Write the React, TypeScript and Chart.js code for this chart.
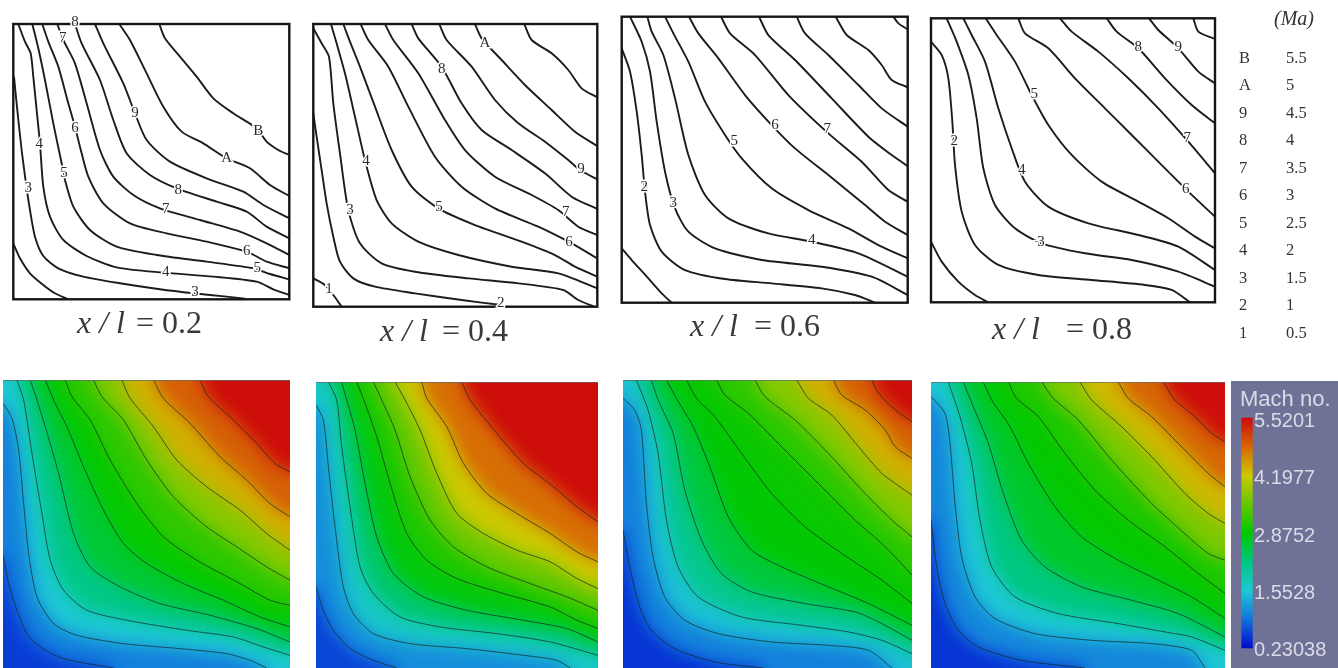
import React, { useEffect, useRef } from "react";
import { Chart, registerables } from "chart.js";

Chart.register(...registerables);

// ---------- contour lines: flat [x, y, x, y, ...] lists ----------
const topContours1 = [
  [40,700,60,745,90,790,130,825,165,850,205,868],
  [42,200,52,300,65,420,78,520,90,600,105,680,130,738,175,775,250,800,360,820,480,838,580,850,680,860,735,866],
  [55,42,75,95,92,130,100,200,112,320,120,400,130,530,150,620,190,690,260,738,350,772,490,788,640,800,770,815,820,838,868,855],
  [97,42,115,115,135,210,160,340,185,460,195,510,220,590,270,660,350,710,470,735,620,755,760,775,810,792,868,808],
  [127,42,145,95,175,170,205,280,225,350,240,410,265,500,310,580,390,640,500,670,620,695,740,725,800,755,868,775],
  [172,42,190,90,225,160,260,280,300,420,340,500,400,555,480,595,600,630,720,665,800,700,868,735],
  [225,42,245,100,300,210,340,330,380,430,450,495,530,535,650,575,740,605,800,650,868,685],
  [285,42,310,100,370,220,405,310,440,390,510,455,620,505,730,545,790,585,868,625],
  [358,42,390,90,440,190,490,290,545,365,610,400,680,445,750,475,810,525,868,558],
  [478,42,495,85,540,140,590,200,640,265,700,310,770,355,800,395,835,420,868,435],
];
const topContours2 = [
  [25,805,60,825,85,855,110,890],
  [25,310,35,380,50,480,65,580,85,680,105,755,145,805,210,830,330,850,470,870,590,885],
  [25,55,50,100,72,140,85,280,105,430,130,600,165,700,230,760,330,785,490,805,640,820,775,840,820,870,868,890],
  [78,42,95,100,120,190,150,320,180,450,215,570,260,640,340,695,460,735,620,770,760,790,877,835],
  [115,42,135,95,165,170,210,290,260,420,320,530,400,595,510,645,650,695,750,735,810,770,877,800],
  [167,42,190,90,250,170,310,290,390,440,470,530,570,595,700,650,800,700,877,745],
  [240,42,265,90,340,190,420,330,480,420,570,500,680,555,760,600,820,650,877,675],
  [320,42,340,85,410,170,470,280,530,360,620,420,720,490,800,560,877,597],
  [403,42,425,90,500,170,570,270,640,340,720,395,790,450,825,480,877,508],
  [510,42,530,85,590,150,660,225,740,300,810,365,877,408],
  [658,42,680,90,740,130,790,180,830,235,877,262],
];
const topContours3 = [
  [20,730,50,765,100,820,140,865,170,893],
  [20,130,45,200,65,320,80,450,90,560,105,660,140,740,210,795,330,822,470,835,620,850,720,870,780,893],
  [45,35,80,110,105,200,125,350,150,500,180,610,220,680,300,730,440,765,620,785,770,815,878,870],
  [97,35,110,80,145,150,180,280,220,450,270,570,340,640,460,685,590,710,730,745,878,815],
  [150,35,175,85,220,170,270,290,330,390,380,460,470,550,580,615,700,670,790,720,878,760],
  [222,35,250,85,310,160,390,270,470,360,540,430,640,510,750,600,810,650,878,690],
  [318,35,345,85,420,150,520,270,640,385,740,470,820,555,878,590],
  [432,35,460,90,540,165,650,280,760,395,830,450,878,483],
  [545,35,570,85,640,150,730,240,800,310,878,365],
  [662,35,695,90,760,135,800,180,830,225,878,247],
  [835,35,850,55,878,73],
];
const topContours4 = [
  [18,710,50,770,100,830,150,870,190,892],
  [18,110,50,150,70,220,82,350,90,480,110,620,150,720,220,780,340,810,500,825,660,840,740,855,795,892],
  [65,40,95,110,130,210,155,340,175,490,210,600,270,670,350,715,480,745,620,765,760,800,870,845],
  [115,40,140,90,180,170,220,310,260,430,300,530,370,605,490,655,640,690,760,725,870,795],
  [182,40,215,90,270,170,320,270,370,360,440,450,530,530,640,590,730,640,810,695,870,730],
  [280,40,300,85,370,130,450,220,540,310,620,390,720,490,790,560,870,635],
  [405,40,440,80,520,140,610,220,700,310,790,410,870,505],
  [545,40,575,80,640,130,720,220,800,300,870,355],
  [672,40,700,75,760,130,820,200,870,235],
  [805,40,820,80,870,102],
];
const lowerContours1 = [
  [8,555,25,640,50,720,80,790,120,830,190,865,340,893],
  [8,100,35,145,55,240,70,400,85,550,110,680,160,760,230,795,370,820,540,835,680,850,750,870,800,893],
  [50,30,70,90,95,250,125,430,150,570,190,660,260,720,380,750,560,780,700,800,790,830,870,855],
  [90,30,110,90,135,170,175,310,220,490,270,590,360,650,480,700,630,735,770,775,870,815],
  [135,30,160,90,200,170,250,290,310,420,370,520,440,580,550,640,670,690,780,740,870,770],
  [195,30,215,80,270,150,330,270,410,400,490,500,590,570,720,640,810,690,870,705],
  [280,30,305,80,370,150,440,270,520,380,620,470,710,530,800,590,870,630],
  [365,30,390,85,460,170,530,270,620,350,720,420,800,490,870,540],
  [460,30,490,85,570,160,660,260,740,330,810,400,870,440],
  [600,30,625,80,700,150,770,220,825,280,870,305],
];
const lowerContours2 = [
  [18,650,40,720,70,780,120,835,190,870,260,893],
  [18,105,40,150,55,290,75,470,100,650,130,730,190,790,300,820,470,835,640,855,740,870,780,893],
  [55,36,80,90,95,230,120,410,150,590,190,670,270,740,390,770,560,790,720,815,863,855],
  [95,36,110,90,135,180,165,340,200,500,250,610,340,680,470,720,640,750,770,775,863,815],
  [140,36,165,100,200,200,240,340,290,490,350,570,440,625,580,670,720,710,800,750,863,775],
  [190,36,215,90,255,180,300,320,360,450,430,530,530,590,660,640,770,680,863,720],
  [255,36,285,90,330,180,380,310,440,430,520,490,620,540,720,575,800,625,863,655],
  [335,36,350,85,410,170,460,280,530,370,620,430,720,490,800,545,863,575],
  [455,36,480,90,560,190,640,280,730,350,800,410,863,455],
];
const lowerContours3 = [
  [25,480,45,590,75,710,110,780,180,835,300,875,445,893],
  [25,85,60,120,80,180,95,400,115,560,150,680,210,750,310,790,470,815,640,825,760,840,830,893],
  [65,30,100,120,130,250,155,450,190,590,250,680,380,740,560,765,700,785,800,810,890,850],
  [110,30,130,90,175,190,210,360,260,510,320,610,410,665,570,700,720,725,790,755,890,810],
  [155,30,185,85,235,170,285,290,340,440,410,540,500,590,640,650,760,700,890,765],
  [215,30,245,85,300,140,380,250,470,370,570,470,680,550,800,630,890,700],
  [305,30,330,75,400,130,490,220,610,340,720,450,810,530,890,615],
  [420,30,450,80,540,150,640,250,740,360,830,450,890,500],
  [545,30,580,85,650,135,730,230,800,310,890,375],
  [655,30,680,75,750,120,810,180,840,230,890,265],
  [770,30,790,70,840,120,890,155],
];
const lowerContours4 = [
  [18,450,35,590,60,700,100,780,160,830,290,870,480,893],
  [18,80,60,130,75,220,90,400,110,560,150,680,210,745,330,790,500,810,680,820,800,840,840,893],
  [70,36,105,140,140,280,165,450,200,590,270,680,400,730,580,760,720,785,800,800,900,840],
  [115,36,145,110,190,220,235,370,290,510,360,590,470,650,620,690,760,730,900,800],
  [175,36,200,90,255,170,310,280,390,410,470,500,580,570,700,630,800,680,900,745],
  [250,36,275,85,340,140,420,250,510,360,610,450,720,530,820,610,900,670],
  [350,36,385,85,460,150,560,270,680,400,790,500,850,550,900,570],
  [465,36,500,90,590,170,680,260,780,370,850,430,900,460],
  [580,36,610,85,680,140,760,220,850,310,900,350],
  [715,36,750,90,810,140,860,190,900,215],
];

// ---------- Mach number for each band between contours ----------
const bandMach1 = [0.55, 1.0, 1.55, 2.15, 2.6, 2.9, 3.2, 3.75, 4.35, 4.9, 5.5];
const bandMach2 = [0.6, 1.1, 1.65, 2.3, 2.8, 3.1, 3.6, 4.2, 4.8, 5.5];
const bandMach3 = [0.5, 1.0, 1.5, 2.1, 2.55, 2.85, 2.95, 3.2, 3.75, 4.35, 4.9, 5.5];
const bandMach4 = [0.5, 1.05, 1.55, 2.2, 2.65, 2.9, 3.1, 3.7, 4.3, 4.85, 5.5];

// ---------- contour code labels: [code, x, y] ----------
const topLabels1: [string, number, number][] = [["8",225,35],["7",188,85],["9",405,310],["6",225,355],["4",118,402],["B",775,362],["A",680,445],["5",192,490],["3",85,535],["8",535,540],["7",497,597],["6",740,722],["5",772,775],["4",497,785],["3",585,845]];
const topLabels2: [string, number, number][] = [["A",540,100],["8",410,177],["9",828,477],["4",183,452],["7",782,605],["3",135,600],["5",402,590],["6",792,695],["1",72,838],["2",587,878]];
const topLabels3: [string, number, number][] = [["2",88,545],["3",175,595],["5",358,408],["6",480,360],["7",637,372],["4",590,705]];
const topLabels4: [string, number, number][] = [["8",640,127],["9",760,125],["5",328,268],["2",88,408],["7",787,400],["4",290,495],["6",782,552],["3",348,712]];

// ---------- text and key ----------
const captions = ["0.2", "0.4", "0.6", "0.8"];
const legendCodes = ["B", "A", "9", "8", "7", "6", "5", "4", "3", "2", "1"];
const legendMach = ["5.5", "5", "4.5", "4", "3.5", "3", "2.5", "2", "1.5", "1", "0.5"];
const colorbarTicks = [5.5201, 4.1977, 2.8752, 1.5528, 0.23038];
const rampMach = [0.23038, 0.6, 1.0, 1.5528, 2.2, 2.8752, 3.6, 4.1977, 4.8, 5.5201];
const rampColor = [
  [0, 10, 205], [10, 70, 215], [20, 130, 220], [30, 200, 212], [0, 200, 130],
  [0, 200, 0], [110, 200, 0], [205, 200, 0], [215, 110, 5], [205, 10, 10],
];

const machColor = (m: number) => {
  let i = 0;
  while (i < rampMach.length - 2 && m > rampMach[i + 1]) i++;
  const t = Math.min(1, Math.max(0, (m - rampMach[i]) / (rampMach[i + 1] - rampMach[i])));
  const c = rampColor[i].map((v, k) => Math.round(v + (rampColor[i + 1][k] - v) * t));
  return `rgb(${c[0]},${c[1]},${c[2]})`;
};

const toPoints = (flat: number[]) => {
  const pts: { x: number; y: number }[] = [];
  for (let i = 0; i < flat.length; i += 2) pts.push({ x: flat[i], y: flat[i + 1] });
  return pts;
};

type Range = { x0: number; x1: number; y0: number; y1: number };

// closes a contour round the high-Mach (upper right) side, beyond the visible frame
const regionAbove = (flat: number[], r: Range) => {
  const pad = 90;
  const farL = r.x0 - pad, farR = r.x1 + pad, farT = r.y0 - pad, farB = r.y1 + pad;
  const pts = toPoints(flat);
  const s = pts[0], e = pts[pts.length - 1];
  const out = [...pts];
  if (e.x >= r.x1 - 1) {
    out.push({ x: farR, y: e.y });
  } else {
    out.push({ x: e.x, y: farB }, { x: farR, y: farB });
  }
  out.push({ x: farR, y: farT });
  if (s.y <= r.y0 + 1) {
    out.push({ x: s.x, y: farT });
  } else {
    out.push({ x: farL, y: farT }, { x: farL, y: s.y });
  }
  return out;
};

const baseOptions = (r: Range, padding: any) => ({
  responsive: false,
  animation: false as const,
  events: [] as any[],
  layout: { padding },
  plugins: { legend: { display: false }, tooltip: { enabled: false }, title: { display: false } },
  scales: {
    x: { type: "linear" as const, display: false, min: r.x0, max: r.x1 },
    y: { type: "linear" as const, display: false, min: r.y0, max: r.y1, reverse: true },
  },
});

type TopSpec = {
  left: number; width: number; frame: [number, number, number, number];
  range: Range; contours: number[][]; labels: [string, number, number][];
  caption: string; capL: number; capR: number; capY: number;
};
type LowSpec = {
  box: [number, number, number, number]; range: Range; contours: number[][]; bands: number[];
};

const topSpecs: TopSpec[] = [
  { left: 0, width: 302, frame: [13.3, 24, 289.3, 299.3], range: { x0: 40, x1: 868, y0: 42, y1: 868 }, contours: topContours1, labels: topLabels1, caption: captions[0], capL: 77, capR: 202, capY: 325 },
  { left: 305, width: 302, frame: [313.3, 24, 597.3, 306.7], range: { x0: 25, x1: 877, y0: 42, y1: 890 }, contours: topContours2, labels: topLabels2, caption: captions[1], capL: 380, capR: 508, capY: 333 },
  { left: 612, width: 306, frame: [621.7, 16.7, 907.7, 302.7], range: { x0: 20, x1: 878, y0: 35, y1: 893 }, contours: topContours3, labels: topLabels3, caption: captions[2], capL: 690, capR: 820, capY: 328 },
  { left: 922, width: 303, frame: [931, 18.3, 1215, 302.3], range: { x0: 18, x1: 870, y0: 40, y1: 892 }, contours: topContours4, labels: topLabels4, caption: captions[3], capL: 992, capR: 1132, capY: 331 },
];
const lowSpecs: LowSpec[] = [
  { box: [3, 380, 287, 288], range: { x0: 8, x1: 870, y0: 30, y1: 893 }, contours: lowerContours1, bands: bandMach1 },
  { box: [316, 382, 282, 286], range: { x0: 18, x1: 863, y0: 36, y1: 893 }, contours: lowerContours2, bands: bandMach2 },
  { box: [623, 380, 289, 288], range: { x0: 25, x1: 890, y0: 30, y1: 893 }, contours: lowerContours3, bands: bandMach3 },
  { box: [931, 382, 294, 286], range: { x0: 18, x1: 900, y0: 36, y1: 893 }, contours: lowerContours4, bands: bandMach4 },
];

const TOP_H = 350;

function makeTop(canvas: HTMLCanvasElement, s: TopSpec) {
  const [fx0, fy0, fx1, fy1] = s.frame;
  const framePlugin = {
    id: "frameAndText",
    afterDraw(chart: any) {
      const { ctx, chartArea: a, scales } = chart;
      ctx.save();
      ctx.strokeStyle = "#151515";
      ctx.lineWidth = 2.4;
      ctx.strokeRect(a.left, a.top, a.right - a.left, a.bottom - a.top);
      ctx.font = "15px 'Liberation Serif'";
      ctx.textAlign = "center";
      ctx.textBaseline = "middle";
      for (const [t, x, y] of s.labels) {
        const px = scales.x.getPixelForValue(x), py = scales.y.getPixelForValue(y);
        ctx.strokeStyle = "#ffffff";
        ctx.lineWidth = 3;
        ctx.strokeText(t, px, py);
        ctx.fillStyle = "#2a2a2a";
        ctx.fillText(t, px, py);
      }
      ctx.fillStyle = "#3a3a3a";
      ctx.font = "italic 32px 'Liberation Serif'";
      ctx.textAlign = "left";
      ctx.fillText("x / l", s.capL - s.left, s.capY);
      ctx.font = "32px 'Liberation Serif'";
      ctx.textAlign = "right";
      ctx.fillText("= " + s.caption, s.capR - s.left, s.capY);
      ctx.restore();
    },
  };
  return new Chart(canvas, {
    type: "scatter",
    data: {
      datasets: s.contours.map((c) => ({
        data: toPoints(c), showLine: true, borderColor: "#1c1c1c", borderWidth: 1.9,
        pointRadius: 0, tension: 0.25, fill: false,
      })),
    },
    options: baseOptions(s.range, {
      left: fx0 - s.left, right: s.left + s.width - fx1, top: fy0, bottom: TOP_H - fy1,
    }) as any,
    plugins: [framePlugin],
  });
}

function makeLower(canvas: HTMLCanvasElement, s: LowSpec) {
  const r = s.range;
  const base = [r.x0 - 90, r.y0 - 90, r.x1 + 90, r.y0 - 90, r.x1 + 90, r.y1 + 90, r.x0 - 90, r.y1 + 90];
  const fills: any[] = [
    { data: toPoints(base), order: 200, backgroundColor: machColor(s.bands[0]) },
    ...s.contours.map((c, i) => ({
      data: regionAbove(c, r), order: 100 - i, backgroundColor: machColor(s.bands[i + 1]),
    })),
  ].map((d) => ({ ...d, showLine: true, borderWidth: 0, borderColor: "transparent", pointRadius: 0, tension: 0, fill: "shape" }));
  const lines: any[] = s.contours.map((c) => ({
    data: toPoints(c), order: 0, showLine: true, borderColor: "rgba(18,38,38,0.78)", borderWidth: 0.9,
    pointRadius: 0, tension: 0.25, fill: false,
  }));
  const softPlugin = {
    id: "softBands",
    beforeDraw(chart: any) {
      chart.ctx.filter = "blur(8px)";
    },
    beforeDatasetDraw(chart: any, args: any) {
      if (chart.data.datasets[args.index].order === 0) chart.ctx.filter = "none";
    },
    afterDraw(chart: any) {
      const { ctx, chartArea: a } = chart;
      ctx.filter = "none";
      ctx.save();
      ctx.strokeStyle = "rgba(95,105,105,0.7)";
      ctx.lineWidth = 1;
      ctx.beginPath();
      ctx.moveTo(a.left, a.top + 0.5);
      ctx.lineTo(a.right, a.top + 0.5);
      ctx.stroke();
      ctx.restore();
    },
  };
  return new Chart(canvas, {
    type: "scatter",
    data: { datasets: [...fills, ...lines] },
    options: baseOptions(r, 0) as any,
    plugins: [softPlugin],
  });
}

function makeKey(canvas: HTMLCanvasElement) {
  const textPlugin = {
    id: "keyText",
    afterDraw(chart: any) {
      const { ctx, scales } = chart;
      ctx.save();
      ctx.fillStyle = "#333333";
      ctx.textBaseline = "middle";
      ctx.textAlign = "left";
      ctx.font = "italic 20px 'Liberation Serif'";
      ctx.fillText("(Ma)", 49, 20);
      ctx.font = "16.5px 'Liberation Serif'";
      legendCodes.forEach((c, i) => {
        const y = scales.y.getPixelForValue(c);
        ctx.fillText(c, 14, y);
        ctx.fillText(legendMach[i], 61, y);
      });
      ctx.restore();
    },
  };
  return new Chart(canvas, {
    type: "bar",
    data: { labels: legendCodes, datasets: [{ data: [] as number[] }] },
    options: {
      responsive: false,
      animation: false,
      events: [],
      layout: { padding: { top: 44.5, bottom: 3 } },
      plugins: { legend: { display: false }, tooltip: { enabled: false } },
      scales: {
        x: { display: false },
        y: { type: "category", labels: legendCodes, display: false, offset: true },
      },
    } as any,
    plugins: [textPlugin],
  });
}

function makeColorbar(canvas: HTMLCanvasElement) {
  const barTop = 6.371, barBottom = -0.23;
  const labelShift = 3 / 43.48;
  const slots = ["", "Mach no.", "", "", "", "", "", "", "", ""];
  const barData: any[] = slots.map((_, i) => (i === 1 ? [colorbarTicks[4], colorbarTicks[0]] : null));
  const gradientFill = (c: any) => {
    const { ctx, chartArea, scales } = c.chart;
    if (!chartArea) return machColor(2.87);
    const yTop = scales.y.getPixelForValue(colorbarTicks[0]);
    const yBot = scales.y.getPixelForValue(colorbarTicks[4]);
    const g = ctx.createLinearGradient(0, yBot, 0, yTop);
    rampMach.forEach((m) => {
      g.addColorStop((m - colorbarTicks[4]) / (colorbarTicks[0] - colorbarTicks[4]), machColor(m));
    });
    return g;
  };
  const bgPlugin = {
    id: "panelBg",
    beforeDraw(chart: any) {
      const { ctx, width, height } = chart;
      ctx.save();
      ctx.fillStyle = "#6f7296";
      ctx.fillRect(0, 0, width, height);
      ctx.restore();
    },
    afterDraw(chart: any) {
      const { ctx } = chart;
      ctx.save();
      ctx.fillStyle = "#d9dbe6";
      ctx.font = "22px 'Liberation Sans'";
      ctx.textBaseline = "middle";
      ctx.textAlign = "left";
      ctx.fillText(slots[1], 9, 19);
      ctx.restore();
    },
  };
  return new Chart(canvas, {
    type: "bar",
    data: {
      labels: slots,
      datasets: [{ data: barData, backgroundColor: gradientFill, barPercentage: 1, categoryPercentage: 1, borderWidth: 0 }],
    },
    options: {
      responsive: false,
      animation: false,
      events: [],
      layout: { autoPadding: false, padding: 0 },
      plugins: { legend: { display: false }, tooltip: { enabled: false } },
      scales: {
        x: { display: false },
        y: { display: false, min: barBottom, max: barTop },
        y2: {
          axis: "y",
          position: "left",
          min: barBottom + labelShift,
          max: barTop + labelShift,
          afterBuildTicks: (s: any) => {
            s.ticks = colorbarTicks.map((v) => ({ value: v }));
          },
          afterFit: (s: any) => {
            s.width = 0;
            s.paddingTop = 0;
            s.paddingBottom = 0;
            s.paddingLeft = 0;
            s.paddingRight = 0;
          },
          grid: { display: false, drawTicks: false },
          border: { display: false },
          ticks: {
            mirror: true,
            padding: 23,
            autoSkip: false,
            color: "#d9dbe6",
            font: { family: "'Liberation Sans'", size: 20 },
            callback: (v: any) => String(v),
          },
        },
      },
    } as any,
    plugins: [bgPlugin],
  });
}

const abs = (l: number, t: number): React.CSSProperties => ({ position: "absolute", left: l, top: t, display: "block" });

export default function App() {
  const topRefs = useRef<(HTMLCanvasElement | null)[]>([]);
  const lowRefs = useRef<(HTMLCanvasElement | null)[]>([]);
  const keyRef = useRef<HTMLCanvasElement | null>(null);
  const barRef = useRef<HTMLCanvasElement | null>(null);

  useEffect(() => {
    const charts: Chart[] = [];
    topSpecs.forEach((s, i) => charts.push(makeTop(topRefs.current[i]!, s)));
    lowSpecs.forEach((s, i) => charts.push(makeLower(lowRefs.current[i]!, s)));
    charts.push(makeKey(keyRef.current!));
    charts.push(makeColorbar(barRef.current!));
    return () => charts.forEach((c) => c.destroy());
  }, []);

  return (
    <div style={{ position: "absolute", left: 0, top: 0, width: 1338, height: 668, overflow: "hidden", background: "#fff" }}>
      {topSpecs.map((s, i) => (
        <canvas key={"t" + i} ref={(el) => { topRefs.current[i] = el; }} width={s.width} height={TOP_H} style={abs(s.left, 0)} />
      ))}
      {lowSpecs.map((s, i) => (
        <canvas key={"l" + i} ref={(el) => { lowRefs.current[i] = el; }} width={s.box[2]} height={s.box[3]} style={abs(s.box[0], s.box[1])} />
      ))}
      <canvas ref={keyRef} width={113} height={350} style={abs(1225, 0)} />
      <canvas ref={barRef} width={107} height={287} style={abs(1231, 381)} />
    </div>
  );
}
